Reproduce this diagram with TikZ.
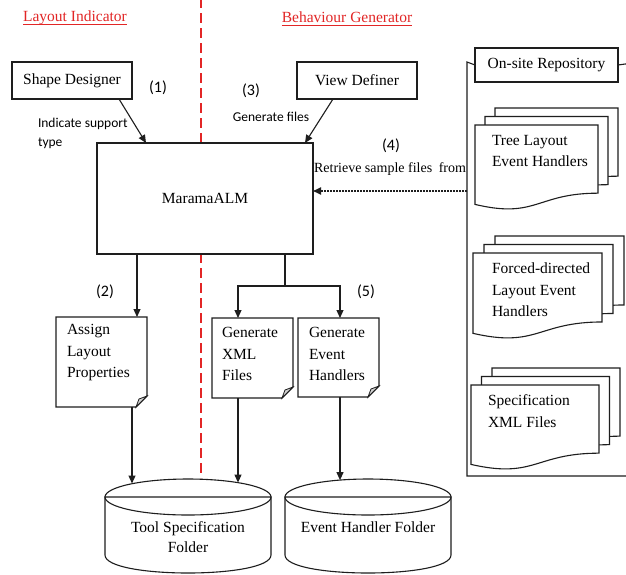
\documentclass[tikz,border=0pt]{standalone}
\usepackage{fontspec}
\setmainfont{Liberation Serif}
\newfontfamily\tnr{Liberation Serif}
\newfontfamily\calib{Carlito}
\usetikzlibrary{arrows.meta,calc}
\definecolor{hred}{RGB}{226,38,38}
\definecolor{ink}{RGB}{30,30,30}
\newcommand\redul[1]{\setbox0\hbox{#1}\leavevmode\rlap{\copy0}\rule[-4.2pt]{\wd0}{1.2pt}}
% document shape with wavy bottom: x, y(top), w, h
\newcommand\wdoc[4]{%
  \filldraw[box] (#1,#2) -- ({#1+#3},#2) -- ({#1+#3},{#2+0.802*#4})
    .. controls ({#1+0.5*#3},{#2+0.802*#4}) and ({#1+0.5*#3},{#2+1.107*#4}) ..
    (#1,{#2+0.934*#4}) -- cycle;}
% page with folded corner: x, y(top), w, h
\newcommand\fdoc[4]{%
  \filldraw[box] (#1,#2) -- ({#1+#3},#2) -- ({#1+#3},{#2+#4-11}) -- ({#1+#3-11},{#2+#4}) -- (#1,{#2+#4}) -- cycle;
  \filldraw[draw=ink,line width=0.8pt,fill=gray!35] ({#1+#3},{#2+#4-11}) -- ({#1+#3-8},{#2+#4-8}) -- ({#1+#3-11},{#2+#4}) -- cycle;}
% cylinder: cx, top y, rx, ry, bottom y
\newcommand\cylshape[5]{%
  \filldraw[box] ({#1-#3},#2) -- ({#1-#3},#5) .. controls ({#1-#3},{#5+4/3*#4}) and ({#1+#3},{#5+4/3*#4}) .. ({#1+#3},#5) -- ({#1+#3},#2) -- cycle;
  \draw[plain] (#1,#2) ellipse [x radius=#3pt, y radius=#4pt];}
\begin{document}
\begin{tikzpicture}[x=1pt,y=-1pt,
  every node/.style={inner sep=0pt,outer sep=0pt},
  box/.style={draw=ink,line width=1.1pt,fill=white},
  plain/.style={draw=ink,line width=1.1pt},
  conn/.style={draw=ink,line width=1.1pt,-{Triangle[length=8pt,width=7pt]}},
  dotarrow/.style={draw=ink,line width=1.8pt,dash pattern=on 1.6pt off 1.4pt,-{Triangle[length=8pt,width=7pt]}},
  txt/.style={font=\tnr\fontsize{15.5}{21.5}\selectfont},
  small/.style={font=\tnr\fontsize{14}{19}\selectfont},
  lab/.style={font=\calib\fontsize{16}{19}\selectfont},
  clab/.style={font=\calib\fontsize{13.5}{19}\selectfont},
  head/.style={font=\tnr\fontsize{15.5}{18}\selectfont, text=hred},
  ghost/.style={draw=none,fill=none}
]
\clip (0,0) rectangle (626,574);
\fill[white] (0,0) rectangle (626,574);

% divider
\coordinate (dtop) at (201,-2);
\coordinate (dbot) at (201,478);
\draw[hred,line width=2.4pt,dash pattern=on 10pt off 5pt] (dtop) -- (dbot);

% headings
\node[head] (li) at (75,18) {\redul{Layout Indicator}};
\node[head] (bg) at (347,19) {\redul{Behaviour Generator}};

% top boxes
\node[box,txt,minimum width=120pt,minimum height=37pt] (sd) at (72,80.5) {Shape Designer};
\node[box,txt,minimum width=120pt,minimum height=37pt] (vd) at (357,80.5) {View Definer\hspace{12pt}};
\node[box,txt,minimum width=216pt,minimum height=111pt] (mal) at (205,198.5) {MaramaALM};

% labels
\node[lab] (n1) at (158,88) {(1)};
\node[lab] (n3) at (251,91) {(3)};
\node[lab] (n2) at (105,292) {(2)};
\node[lab] (n4) at (391,146) {(4)};
\node[lab] (n5) at (366,292) {(5)};
\node[clab,align=left,anchor=west] (ist) at (38,133.5) {Indicate support\\type};
\node[clab] (gf) at (271,117) {Generate files};
\node[small] (rsf) at (390,169) {Retrieve sample files\hspace{3pt} from};

% repository
\node[box,txt,minimum width=143pt,minimum height=34pt] (os) at (546.5,65) {On-site Repository};
\coordinate (fr1) at (467,62);
\coordinate (fr2) at (467,476);
\coordinate (fr3) at (640,476);
\coordinate (fr4) at (640,62);
\draw[plain] (os.west) -- (fr1) -- (fr2) -- (fr3);
\draw[plain] (os.east) -- (fr4);

% stacks
\wdoc{495}{108}{123}{85}
\wdoc{485}{116.5}{123}{85}
\wdoc{475}{125}{123}{85}
\node[txt,align=left,anchor=west] (tree) at (492,151) {Tree Layout\\Event Handlers};

\wdoc{495}{236}{129}{86}
\wdoc{484}{244.5}{129}{86}
\wdoc{473}{253}{129}{86}
\node[txt,align=left,anchor=west] (forced) at (492,290) {Forced-directed\\Layout Event\\Handlers};

\wdoc{492}{368}{128}{85}
\wdoc{481.5}{376.5}{128}{85}
\wdoc{471}{385}{128}{85}
\node[txt,align=left,anchor=west] (spec) at (488,411) {Specification\\XML Files};

% folded pages
\fdoc{56}{317}{91}{90}
\node[ghost,minimum width=91pt,minimum height=90pt] (alp) at (101.5,362) {};
\node[txt,align=left,anchor=west] (alpt) at (67,353) {Assign\\Layout\\Properties};
\fdoc{212}{318}{81}{80}
\node[ghost,minimum width=81pt,minimum height=80pt] (gxf) at (252.5,358) {};
\node[txt,align=left,anchor=west] (gxft) at (222,354) {Generate\\XML\\Files};
\fdoc{298}{318}{81}{79}
\node[ghost,minimum width=81pt,minimum height=79pt] (geh) at (338.5,357.5) {};
\node[txt,align=left,anchor=west] (geht) at (309,354) {Generate\\Event\\Handlers};

% cylinders
\cylshape{188}{497}{83}{18}{555}
\node[ghost,minimum width=166pt,minimum height=94pt] (tsf) at (188,526) {};
\node[align=center,font=\tnr\fontsize{15.5}{20}\selectfont] (tsft) at (188,537) {Tool Specification\\Folder};
\cylshape{368}{497}{83}{18}{555}
\node[ghost,minimum width=166pt,minimum height=94pt] (ehf) at (368,526) {};
\node[txt] (ehft) at (368,527) {Event Handler Folder};

% connectors
\draw[conn] ($(sd.south east)+(-13,0)$) -- ($(mal.north west)+(49,0)$);
\draw[conn] ($(vd.south west)+(36,0)$) -- ($(mal.north east)+(-8,0)$);
\coordinate (rep) at (467,191);
\draw[dotarrow] (rep) -- (rep -| mal.east);
\draw[conn] ($(mal.south west)+(40,0)$) -- ($(alp.north west)+(81,0)$);
\draw[plain] ($(mal.south east)+(-28,0)$) -- ++(0,32) coordinate (br);
\draw[conn] (br) -| ($(gxf.north west)+(26,0)$);
\draw[conn] (br) -| ($(geh.north west)+(42,0)$);
\draw[conn] ($(alp.south east)+(-15,0)$) -- ($(tsf.north)+(-56,4.5)$);
\draw[conn] ($(gxf.south west)+(26,0)$) -- ($(tsf.north)+(50,3.6)$);
\draw[conn] ($(geh.south west)+(42,0)$) -- ($(ehf.north)+(-28,1.1)$);
\end{tikzpicture}
\end{document}
